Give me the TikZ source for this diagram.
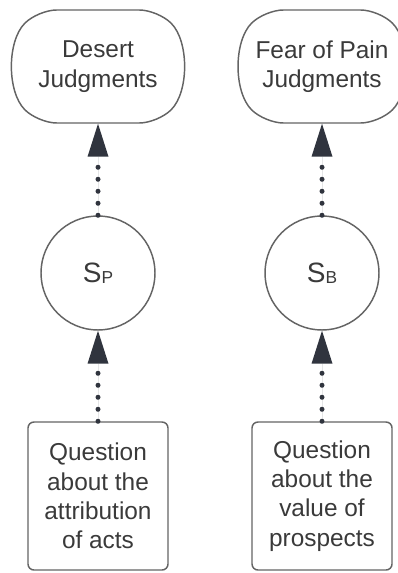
\documentclass[tikz,border=0pt]{standalone}
\usepackage{fontspec}
\setmainfont{Liberation Sans}
\usetikzlibrary{shapes.misc,arrows.meta,positioning}
\definecolor{linegray}{RGB}{100,100,100}
\definecolor{textgray}{RGB}{58,58,58}
\definecolor{tipdark}{RGB}{48,52,62}

\begin{document}
\begin{tikzpicture}[
  x=0.75pt, y=-0.75pt,
  judgment/.style={rounded rectangle, rounded rectangle arc length=90,
    rounded corners=14pt, draw=linegray, line width=1.1pt,
    minimum height=84.75pt, align=center, inner sep=0pt},
  state/.style={circle, draw=linegray, line width=1.1pt,
    minimum size=85.5pt, inner sep=0pt},
  question/.style={rectangle, draw=linegray, line width=1.1pt, rounded corners=4.5pt,
    minimum width=105pt, minimum height=111pt, align=center, inner sep=0pt},
  arrow/.style={-{Triangle[width=15.75pt, length=24.75pt, line width=0pt]},
    draw=tipdark, fill=tipdark, line width=3.75pt, line cap=round,
    dash pattern=on 0pt off 9pt},
  every node/.style={font=\fontsize{18.3}{22}\selectfont, text=textgray}
]
  \useasboundingbox (0,0) rectangle (398,573);

  % Judgments -- top row
  \node[judgment, minimum width=125pt] (desert) at (98,66.5) {Desert\\Judgments};
  \node[judgment, minimum width=121pt] (fear) at (322,66.5) {Fear of Pain\\Judgments};

  % States -- middle row
  \node[state] (sp) at (98,273)
    {\fontsize{21}{24}\selectfont S\raisebox{-0.8pt}{\fontsize{13}{15}\selectfont P}};
  \node[state] (sb) at (322,273)
    {\fontsize{21}{24}\selectfont S\raisebox{-0.8pt}{\fontsize{13}{15}\selectfont B}};

  % Questions -- bottom row
  \node[question] (attrib) at (98,496) {Question\\about the\\attribution\\of acts};
  \node[question] (prosp) at (322,496) {Question\\about the\\value of\\prospects};

  % Dotted arrows
  \draw[arrow] (sp) -- (desert);
  \draw[arrow] (sb) -- (fear);
  \draw[arrow] (attrib) -- (sp);
  \draw[arrow] (prosp) -- (sb);
\end{tikzpicture}
\end{document}
